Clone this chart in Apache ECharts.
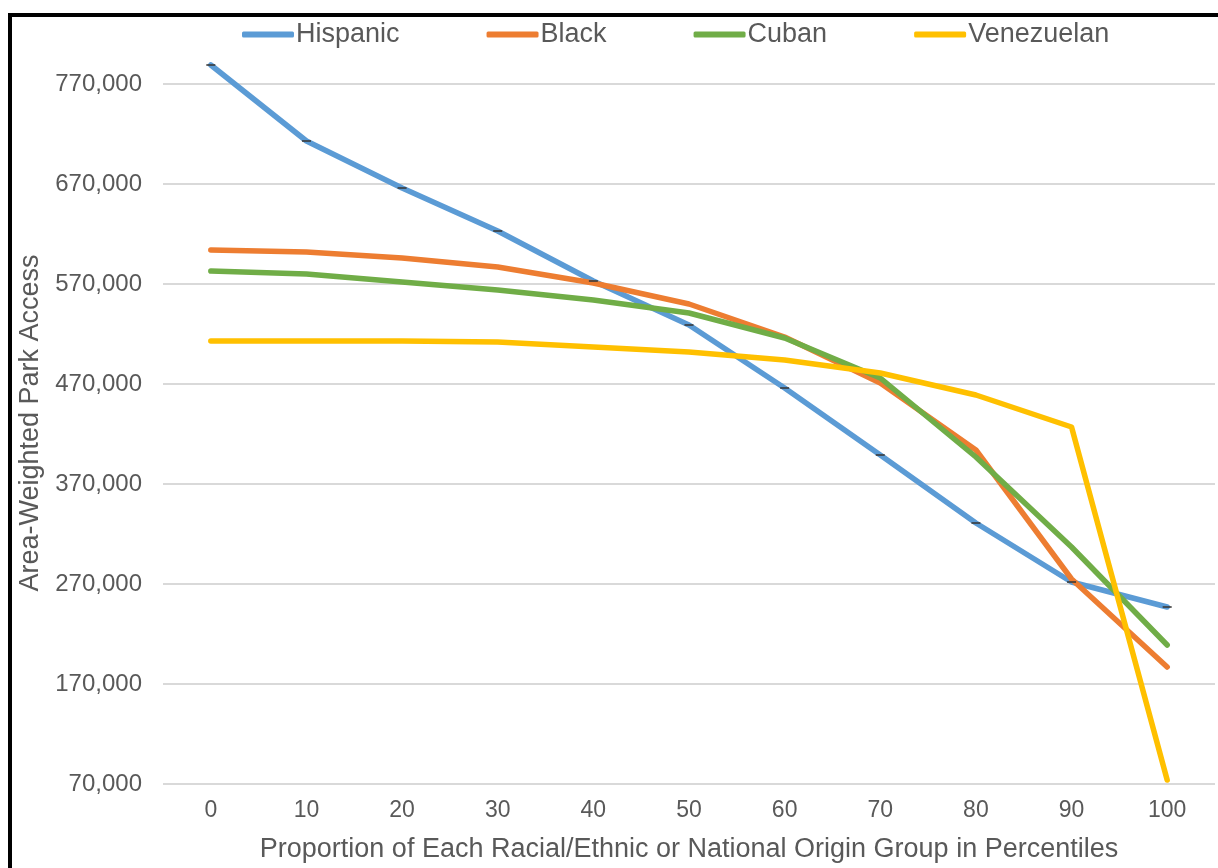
<!DOCTYPE html>
<html>
<head>
<meta charset="utf-8">
<script src="https://cdn.jsdelivr.net/npm/echarts@6/dist/echarts.min.js"></script>
<style>
html,body{margin:0;padding:0;background:#fff;}
#chart{width:1218px;height:868px;}
</style>
</head>
<body>
<div id="chart"></div>
<script>
const categories = ['0','10','20','30','40','50','60','70','80','90','100'];
const hispanic   = [789000, 713000, 666000, 623000, 573000, 529000, 466000, 399000, 331000, 272000, 247000];
const black      = [604000, 602000, 596000, 587000, 571000, 550000, 517000, 471000, 404000, 275000, 187000];
const cuban      = [583000, 580000, 572000, 564000, 554000, 541000, 516000, 476000, 397000, 307000, 209000];
const venezuelan = [513000, 513000, 513000, 512000, 507000, 502000, 494000, 481000, 459000, 427000, 74000];
const yTicks = {min: 70000, max: 770000, interval: 100000};

const font = '"Liberation Sans", Arial, sans-serif';
const textColor = '#595959';
const colors = {Hispanic:'#5B9BD5', Black:'#ED7D31', Cuban:'#70AD47', Venezuelan:'#FFC000'};

function lineSeries(name, data){
  return {
    name: name, type: 'line', data: data,
    symbol: 'none', clip: false, smooth: false,
    lineStyle: {width: 5.5, color: colors[name], cap: 'round', join: 'round'},
    itemStyle: {color: colors[name]},
    emphasis: {disabled: true}
  };
}

const chart = echarts.init(document.getElementById('chart'), null, {renderer: 'canvas'});
chart.setOption({
  animation: false,
  backgroundColor: '#fff',
  textStyle: {fontFamily: font},
  graphic: [
    {type: 'rect', shape: {x: 8, y: 13, width: 4, height: 860}, style: {fill: '#000'}, z: 100},
    {type: 'rect', shape: {x: 8, y: 13, width: 1215, height: 4}, style: {fill: '#000'}, z: 100}
  ],
  legend: {
    data: ['Hispanic','Black','Cuban','Venezuelan'],
    left: 237, top: 16,
    icon: 'roundRect',
    itemWidth: 52, itemHeight: 6, itemGap: 87,
    textStyle: {fontSize: 27, color: textColor, fontFamily: font, padding: [0,0,0,-3]}
  },
  grid: {left: 163, right: 3, top: 84, bottom: 84, containLabel: false},
  xAxis: {
    type: 'category', data: categories, boundaryGap: true,
    axisLine: {show: false}, axisTick: {show: false},
    axisLabel: {fontSize: 23, color: textColor, margin: 15, fontFamily: font},
    name: 'Proportion of Each Racial/Ethnic or National Origin Group in Percentiles',
    nameLocation: 'middle', nameGap: 52,
    nameTextStyle: {fontSize: 27, color: textColor, fontFamily: font}
  },
  yAxis: {
    type: 'value', min: yTicks.min, max: yTicks.max, interval: yTicks.interval,
    axisLine: {show: false}, axisTick: {show: false},
    axisLabel: {fontSize: 24, color: textColor, margin: 21, fontFamily: font,
      formatter: v => v.toLocaleString('en-US')},
    splitLine: {lineStyle: {color: '#D9D9D9', width: 2}},
    name: 'Area-Weighted Park Access',
    nameLocation: 'middle', nameGap: 117,
    nameTextStyle: {fontSize: 27, color: textColor, fontFamily: font, padding: [0, 0, 0, 22]}
  },
  series: [
    lineSeries('Hispanic', hispanic),
    lineSeries('Black', black),
    lineSeries('Cuban', cuban),
    lineSeries('Venezuelan', venezuelan),
    {
      name: 'HispanicMarks', type: 'scatter', data: hispanic, clip: false,
      symbol: 'rect', symbolSize: [9, 2], z: 3,
      itemStyle: {color: '#3a3a3a'}, emphasis: {disabled: true}, silent: true
    }
  ]
});
</script>
</body>
</html>
